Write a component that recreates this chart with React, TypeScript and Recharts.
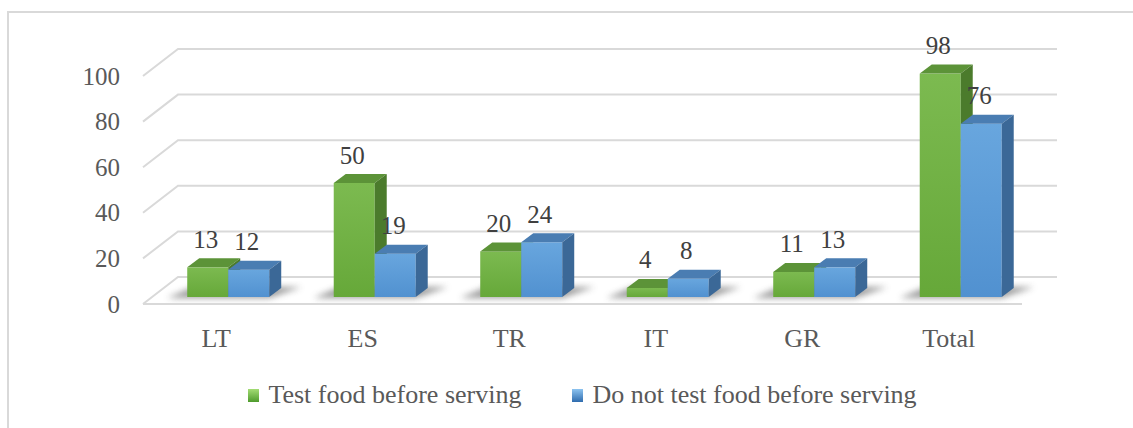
import React from 'react';
import { BarChart, Bar, XAxis, YAxis, CartesianGrid, Legend, LabelList } from 'recharts';

const categories = ['LT', 'ES', 'TR', 'IT', 'GR', 'Total'];
const testFood = [13, 50, 20, 4, 11, 98];
const noTestFood = [12, 19, 24, 8, 13, 76];
const yTicks = [0, 20, 40, 60, 80, 100];
const seriesKeys = ['test', 'noTest'];
const seriesNames = ['Test food before serving', 'Do not test food before serving'];

const data = categories.map((name, i) => ({ name, test: testFood[i], noTest: noTestFood[i] }));

// fake 3d: bars sit a bit behind the floor's front edge
const SHIFT_X = 12;
const SHIFT_Y = -7;
const DEPTH_X = 12;
const DEPTH_Y = -9;
const WALL_X = 35;
const WALL_Y = -27;

const FONT = '"Liberation Serif", "Times New Roman", serif';
const GRID = '#d9d9d9';

const faces = {
  test: { front: 'url(#greenFront)', top: '#5c9338', side: '#4b7b2c', shadow: true },
  noTest: { front: 'url(#blueFront)', top: '#4a7db2', side: '#3b6897', shadow: false },
};
const legendBg: Record<string, string> = {
  test: 'linear-gradient(#a3dc74, #4f9b2c)',
  noTest: 'linear-gradient(#8cc3f0, #2f6cae)',
};

const makeShape = (f: typeof faces.test) => (props: any) => {
  const { x, y, width: w, height: h } = props;
  const fx = x + SHIFT_X;
  const top = y + SHIFT_Y;
  const base = top + h;
  return (
    <g>
      {f.shadow && (
        <polygon
          points={`${fx - 20},${base + 1} ${fx + 2 * w},${base + 1} ${fx + 2 * w + DEPTH_X + 20},${base + DEPTH_Y - 1} ${fx + DEPTH_X - 6},${base + DEPTH_Y - 1}`}
          fill="#7a7a7a"
          opacity={0.75}
          filter="url(#blur)"
        />
      )}
      <rect x={fx} y={top} width={w} height={h} fill={f.front} />
      <polygon
        points={`${fx},${top} ${fx + DEPTH_X},${top + DEPTH_Y} ${fx + w + DEPTH_X},${top + DEPTH_Y} ${fx + w},${top}`}
        fill={f.top}
      />
      <polygon
        points={`${fx + w},${top} ${fx + w + DEPTH_X},${top + DEPTH_Y} ${fx + w + DEPTH_X},${base + DEPTH_Y} ${fx + w},${base}`}
        fill={f.side}
      />
    </g>
  );
};

const wallLine = (p: any) => {
  const { x1, y1, x2, index } = p;
  return (
    <polyline
      key={`wall-${index}-${y1}`}
      points={`${x1},${y1} ${x1 + WALL_X},${y1 + WALL_Y} ${x2 + WALL_X},${y1 + WALL_Y}`}
      fill="none"
      stroke={GRID}
      strokeWidth={2}
    />
  );
};

const valueLabel = (p: any) => {
  const { x, y, width, value } = p;
  return (
    <text
      x={x + width / 2 + SHIFT_X - 2}
      y={y + SHIFT_Y - 28}
      textAnchor="middle"
      dominantBaseline="central"
      style={{ fontFamily: FONT, fontSize: 25, fill: '#404040' }}
    >
      {value}
    </text>
  );
};

const yTick = (p: any) => (
  <text x={p.x} y={p.y} textAnchor="end" dominantBaseline="central" style={{ fontFamily: FONT, fontSize: 25, fill: '#595959' }}>
    {p.payload.value}
  </text>
);

const xTick = (p: any) => (
  <text x={p.x} y={p.y + 34} textAnchor="middle" dominantBaseline="central" style={{ fontFamily: FONT, fontSize: 26, fill: '#595959' }}>
    {p.payload.value}
  </text>
);

const renderLegend = (props: any) => {
  const items = [...(props.payload || [])].sort(
    (a: any, b: any) => seriesKeys.indexOf(a.dataKey) - seriesKeys.indexOf(b.dataKey)
  );
  return (
    <div style={{ display: 'flex', justifyContent: 'center', gap: 51, fontFamily: FONT, fontSize: 26, color: '#595959' }}>
      {items.map((e: any) => (
        <div key={e.dataKey} style={{ display: 'flex', alignItems: 'center' }}>
          <span style={{ display: 'inline-block', width: 11, height: 13, background: legendBg[e.dataKey], marginRight: 9 }} />
          <span>{e.value}</span>
        </div>
      ))}
    </div>
  );
};

export default function App() {
  return (
    <div style={{ position: 'absolute', left: 0, top: 0, width: 1133, height: 428, overflow: 'hidden', background: '#fff' }}>
      <div style={{ position: 'absolute', left: 7, top: 11, width: 1200, height: 500, borderLeft: `2px solid ${GRID}`, borderTop: `2px solid ${GRID}` }} />
      <BarChart
        width={1133}
        height={428}
        data={data}
        margin={{ top: 76, right: 111, bottom: 84, left: 63 }}
        barCategoryGap="22%"
        barGap={0}
      >
        <defs>
          <linearGradient id="greenFront" x1="0" y1="0" x2="0" y2="1">
            <stop offset="0%" stopColor="#7cba50" />
            <stop offset="100%" stopColor="#66a839" />
          </linearGradient>
          <linearGradient id="blueFront" x1="0" y1="0" x2="0" y2="1">
            <stop offset="0%" stopColor="#68a6de" />
            <stop offset="100%" stopColor="#5191d0" />
          </linearGradient>
          <filter id="blur" x="-50%" y="-50%" width="200%" height="200%">
            <feGaussianBlur stdDeviation="3" />
          </filter>
        </defs>
        <CartesianGrid vertical={false} horizontal={wallLine} />
        <XAxis
          dataKey="name"
          height={40}
          axisLine={{ stroke: GRID, strokeWidth: 2 }}
          tickLine={false}
          tickSize={0}
          tickMargin={0}
          tick={xTick}
        />
        <YAxis
          width={80}
          domain={[0, 100]}
          ticks={yTicks}
          axisLine={false}
          tickLine={false}
          tickSize={0}
          tickMargin={23}
          tick={yTick}
        />
        <Legend
          verticalAlign="middle"
          align="center"
          content={renderLegend}
          wrapperStyle={{ top: 380, left: 143, width: 879 }}
        />
        <Bar dataKey="test" name={seriesNames[0]} fill="#70ad47" shape={makeShape(faces.test)} isAnimationActive={false}>
          <LabelList dataKey="test" content={valueLabel} />
        </Bar>
        <Bar dataKey="noTest" name={seriesNames[1]} fill="#5b9bd5" shape={makeShape(faces.noTest)} isAnimationActive={false}>
          <LabelList dataKey="noTest" content={valueLabel} />
        </Bar>
      </BarChart>
    </div>
  );
}
